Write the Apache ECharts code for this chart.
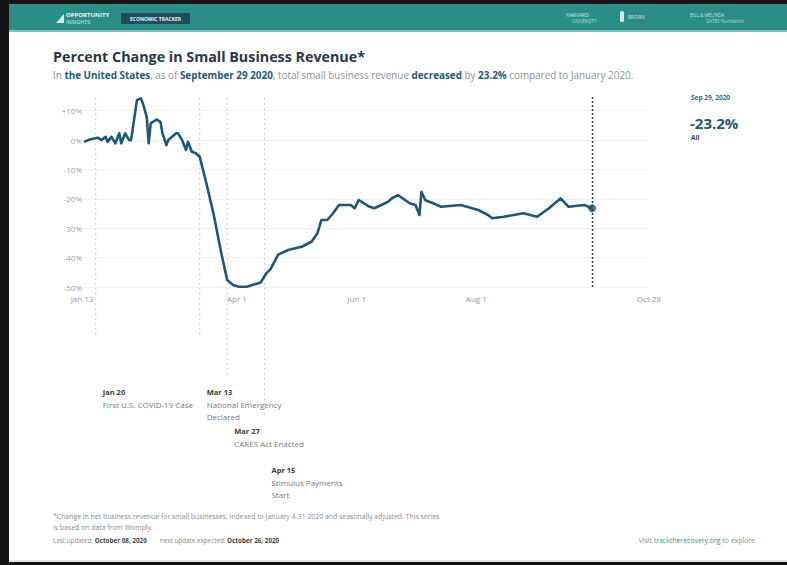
<!DOCTYPE html>
<html>
<head>
<meta charset="utf-8">
<script src="https://cdn.jsdelivr.net/npm/echarts@6/dist/echarts.min.js"></script>
<style>
  html, body { margin: 0; padding: 0; background: #141414; }
  #chart { width: 787px; height: 565px; }
</style>
</head>
<body>
<div id="chart"></div>
<script>
// Small business revenue, percent change vs. January 2020 (seasonally adjusted, 7-day average)
const dates = [
  '2020-01-14', '2020-01-17', '2020-01-21', '2020-01-23', '2020-01-25', '2020-01-26',
  '2020-01-28', '2020-01-30', '2020-02-01', '2020-02-02', '2020-02-04', '2020-02-06',
  '2020-02-07', '2020-02-09', '2020-02-10', '2020-02-12', '2020-02-13', '2020-02-15',
  '2020-02-16', '2020-02-17', '2020-02-20', '2020-02-22', '2020-02-23', '2020-02-25',
  '2020-02-26', '2020-03-01', '2020-03-02', '2020-03-04', '2020-03-06', '2020-03-07',
  '2020-03-09', '2020-03-11', '2020-03-13', '2020-03-16', '2020-03-20', '2020-03-24',
  '2020-03-27', '2020-03-30', '2020-04-02', '2020-04-06', '2020-04-13', '2020-04-16',
  '2020-04-18', '2020-04-22', '2020-04-27', '2020-05-04', '2020-05-09', '2020-05-12',
  '2020-05-14', '2020-05-17', '2020-05-20', '2020-05-23', '2020-05-29', '2020-05-31',
  '2020-06-02', '2020-06-07', '2020-06-10', '2020-06-17', '2020-06-19', '2020-06-22',
  '2020-06-28', '2020-07-01', '2020-07-03', '2020-07-04', '2020-07-06', '2020-07-10',
  '2020-07-14', '2020-07-24', '2020-08-02', '2020-08-07', '2020-08-09', '2020-08-15',
  '2020-08-25', '2020-09-01', '2020-09-07', '2020-09-12', '2020-09-13', '2020-09-17',
  '2020-09-25', '2020-09-29'
];
const revenueChange = [
  -0.6, 0.2, 0.8, 0.0, 1.1, -0.6,
  1.1, -1.1, 2.3, -1.1, 2.3, 0.0,
  0.0, 9.0, 13.6, 14.2, 12.5, 7.9,
  -1.1, 5.7, 7.0, 6.2, 2.3, -1.7,
  0.0, 2.3, 2.3, 0.0, -3.4, -0.6,
  -4.0, -4.5, -5.7, -13.6, -25.0, -38.5,
  -47.6, -49.3, -49.9, -49.9, -48.5, -45.3,
  -44.0, -39.0, -37.4, -36.3, -34.6, -31.7,
  -27.2, -27.2, -24.9, -22.1, -22.1, -23.2,
  -20.4, -22.5, -23.2, -21.0, -19.8, -18.7,
  -21.5, -22.1, -25.5, -17.6, -20.5, -21.5,
  -22.7, -22.1, -23.8, -25.5, -26.6, -26.1,
  -24.9, -26.1, -23.2, -20.4, -19.8, -22.7,
  -22.1, -23.2
];

// x-axis tick positions and their labels
const xTickDates = ['2020-01-13', '2020-04-01', '2020-06-01', '2020-08-01', '2020-10-28'];
const xTickLabels = ['Jan 13', 'Apr 1', 'Jun 1', 'Aug 1', 'Oct 28'];

// y-axis tick values
const yTicks = [-50, -40, -30, -20, -10, 0, 10];

// policy / pandemic milestones
const eventDates = ['2020-01-20', '2020-03-13', '2020-03-27', '2020-04-15'];
const eventTitles = ['Jan 20', 'Mar 13', 'Mar 27', 'Apr 15'];
const eventTexts = [
  'First U.S. COVID-19 Case',
  'National Emergency\nDeclared',
  'CARES Act Enacted',
  'Stimulus Payments\nStart'
];

const FONT = '"Open Sans", "Noto Sans", sans-serif';
const NAVY = '#1b5879';
const lastDate = dates[dates.length - 1];
const lastValue = revenueChange[revenueChange.length - 1];
const ts = d => new Date(d + 'T00:00:00Z').getTime();
const fmtPct = v => (v > 0 ? '+' : '') + v + '%';

// Stagger milestone labels into rows so that neighbouring texts do not collide
const eventRows = (() => {
  const rowEnds = [];
  return eventDates.map((d, i) => {
    const longest = Math.max(...eventTexts[i].split('\n').map(s => s.length), eventTitles[i].length);
    const width = longest * 3.9;
    const px = ts(d) / 86400000 * 1.957;
    let r = 0;
    while (rowEnds[r] !== undefined && rowEnds[r] > px) r++;
    rowEnds[r] = px + width + 4;
    return r;
  });
})();

const chart = echarts.init(document.getElementById('chart'), null, { renderer: 'svg' });

const monthNames = ['January','February','March','April','May','June','July','August','September','October','November','December'];
const ld = new Date(ts(lastDate));
const lastLong = monthNames[ld.getUTCMonth()] + ' ' + ld.getUTCDate() + ' ' + ld.getUTCFullYear();
const lastShort = monthNames[ld.getUTCMonth()].slice(0, 3) + ' ' + ld.getUTCDate() + ', ' + ld.getUTCFullYear();

chart.setOption({
  backgroundColor: '#141414',
  animation: false,
  textStyle: { fontFamily: FONT },
  title: {
    text: 'Percent Change in Small Business Revenue*',
    left: 48,
    top: 42,
    itemGap: 4,
    textStyle: { fontFamily: FONT, fontSize: 14.3, fontWeight: 700, color: '#27384a', lineHeight: 19 },
    subtext: '{n|In }{b|the United States}{n|, as of }{b|' + lastLong + '}{n|, total small business revenue }{b|' +
      (lastValue < 0 ? 'decreased' : 'increased') + '}{n| by }{b|' + Math.abs(lastValue).toFixed(1) + '%}{n| compared to January 2020.}',
    subtextStyle: {
      fontFamily: FONT,
      rich: {
        n: { fontSize: 9.9, color: '#8d9297', fontFamily: FONT },
        b: { fontSize: 9.9, color: '#1f5b7c', fontWeight: 700, fontFamily: FONT }
      }
    }
  },
  grid: { left: 82, right: 138, top: 96, bottom: 278 },
  xAxis: {
    type: 'time',
    min: ts(xTickDates[0]),
    max: ts(xTickDates[xTickDates.length - 1]),
    axisLine: { show: false },
    axisTick: { show: false },
    splitLine: { show: false },
    axisLabel: { show: false }
  },
  yAxis: {
    type: 'value',
    min: yTicks[0],
    max: 15,
    interval: 10,
    axisLine: { show: false },
    axisTick: { show: false },
    axisLabel: {
      formatter: v => (yTicks.indexOf(v) >= 0 ? fmtPct(v) : ''),
      color: '#a0a0a0',
      fontSize: 8,
      margin: 0
    },
    splitLine: { show: true, showMaxLine: false, lineStyle: { color: '#f1f1f1', width: 1 } }
  },
  series: [
    {
      // date labels along the bottom of the plot
      type: 'custom',
      name: 'xLabels',
      clip: false,
      silent: true,
      data: xTickDates.map((d, i) => [ts(d), i]),
      renderItem: (params, api) => {
        const i = api.value(1);
        const p = api.coord([api.value(0), yTicks[0]]);
        return {
          type: 'text',
          x: p[0], y: p[1] + 11,
          style: { text: xTickLabels[i], fill: '#9a9a9a', fontSize: 8, align: 'center', verticalAlign: 'middle', fontFamily: FONT }
        };
      }
    },
    {
      type: 'custom',
      name: 'milestones',
      clip: false,
      silent: true,
      z: 1,
      data: eventDates.map((d, i) => [ts(d), i]),
      renderItem: (params, api) => {
        const i = api.value(1);
        const x = api.coord([api.value(0), 0])[0];
        const top = params.coordSys.y + 2;
        const row = eventRows[i];
        const labelY = 388 + row * 39;
        return {
          type: 'group',
          children: [
            {
              type: 'line',
              shape: { x1: x, y1: top, x2: x, y2: labelY - 50 },
              style: { stroke: '#cfcfcf', lineWidth: 1, lineDash: [2, 3] }
            },
            {
              type: 'text',
              x: x + 7, y: labelY,
              style: { text: eventTitles[i], fill: '#3d3d3d', fontSize: 7.5, fontWeight: 700, fontFamily: FONT }
            },
            {
              type: 'text',
              x: x + 7, y: labelY + 10,
              style: { text: eventTexts[i], fill: '#7a7a7a', fontSize: 8, lineHeight: 12, fontFamily: FONT }
            }
          ]
        };
      }
    },
    {
      type: 'line',
      name: 'All',
      data: dates.map((d, i) => [ts(d), revenueChange[i]]),
      showSymbol: false,
      lineStyle: { color: NAVY, width: 2.6, join: 'round' },
      z: 3,
      markLine: {
        silent: true,
        symbol: 'none',
        label: { show: false },
        lineStyle: { type: [2, 2], color: '#26384c', width: 1.4 },
        data: [{ xAxis: ts(lastDate) }]
      }
    },
    {
      type: 'scatter',
      name: 'latest',
      data: [[ts(lastDate), lastValue]],
      symbolSize: 8,
      itemStyle: { color: NAVY },
      z: 4
    }
  ],
  graphic: [
    // page
    { type: 'rect', z: -10, shape: { x: 9, y: 4, width: 778, height: 558 }, style: { fill: '#ffffff' } },
    { type: 'rect', z: -9, shape: { x: 9, y: 560, width: 778, height: 2 }, style: { fill: '#e4e4e4' } },
    // header bar
    { type: 'rect', z: -8, shape: { x: 9, y: 4, width: 778, height: 27 }, style: { fill: '#2a8d88' } },
    { type: 'rect', z: -8, shape: { x: 9, y: 30, width: 778, height: 2 }, style: { fill: '#7cc3c0' } },
    // logo mark
    { type: 'polygon', shape: { points: [[56, 23], [64, 14], [64, 23]] }, style: { fill: '#d7eeec' } },
    { type: 'text', x: 66, y: 12, style: { text: 'OPPORTUNITY', fill: '#e9f6f5', fontSize: 6, fontWeight: 700, fontFamily: FONT } },
    { type: 'text', x: 66, y: 18.5, style: { text: 'INSIGHTS', fill: '#cfe9e7', fontSize: 5.5, fontFamily: FONT } },
    { type: 'rect', shape: { x: 121, y: 13, width: 69, height: 11 }, style: { fill: '#1f4f5e' } },
    { type: 'text', x: 155.5, y: 18.5, style: { text: 'ECONOMIC TRACKER', fill: '#e6f2f2', fontSize: 5, fontWeight: 700, align: 'center', verticalAlign: 'middle', fontFamily: FONT } },
    // partner marks
    { type: 'text', x: 566, y: 12, style: { text: 'HARVARD', fill: '#cfe8e6', fontSize: 5, fontFamily: FONT } },
    { type: 'text', x: 572, y: 18, style: { text: 'UNIVERSITY', fill: '#b8dcd9', fontSize: 4.5, fontFamily: FONT } },
    { type: 'rect', shape: { x: 620, y: 11, width: 4, height: 11, r: 1.5 }, style: { fill: '#d4ebe9' } },
    { type: 'text', x: 628, y: 14, style: { text: 'BROWN', fill: '#c2e2df', fontSize: 4.5, fontFamily: FONT } },
    { type: 'text', x: 690, y: 12, style: { text: 'BILL & MELINDA', fill: '#c9e5e3', fontSize: 4.5, fontFamily: FONT } },
    { type: 'text', x: 706, y: 18, style: { text: 'GATES foundation', fill: '#b5dad7', fontSize: 4.5, fontFamily: FONT } },
    // latest value callout
    { type: 'text', x: 691, y: 94, style: { text: lastShort, fill: '#2f6e92', fontSize: 6.5, fontWeight: 700, fontFamily: FONT } },
    { type: 'text', x: 690, y: 115, style: { text: lastValue.toFixed(1) + '%', fill: NAVY, fontSize: 15, fontWeight: 700, fontFamily: FONT } },
    { type: 'text', x: 691, y: 134, style: { text: 'All', fill: '#2c4254', fontSize: 6.5, fontWeight: 700, fontFamily: FONT } },
    // footnotes
    { type: 'text', x: 53, y: 513, style: { text: '*Change in net business revenue for small businesses, indexed to January 4-31 2020 and seasonally adjusted. This series', fill: '#8c8c8c', fontSize: 6.9, fontFamily: FONT } },
    { type: 'text', x: 53, y: 524, style: { text: 'is based on data from Womply.', fill: '#8c8c8c', fontSize: 6.9, fontFamily: FONT } },
    { type: 'text', x: 53, y: 537, style: {
      text: '{n|Last updated: }{b|October 08, 2020}{n|        next update expected: }{b|October 26, 2020}',
      rich: { n: { fill: '#8c8c8c', fontSize: 6.3, fontFamily: FONT }, b: { fill: '#444', fontSize: 6.3, fontWeight: 700, fontFamily: FONT } }
    } },
    { type: 'text', x: 755, y: 537, style: {
      text: '{n|Visit }{l|tracktherecovery.org}{n| to explore}', align: 'right',
      rich: { n: { fill: '#8c8c8c', fontSize: 6.9, fontFamily: FONT }, l: { fill: '#2a9a94', fontSize: 6.9, fontFamily: FONT } }
    } }
  ]
});
</script>
</body>
</html>
